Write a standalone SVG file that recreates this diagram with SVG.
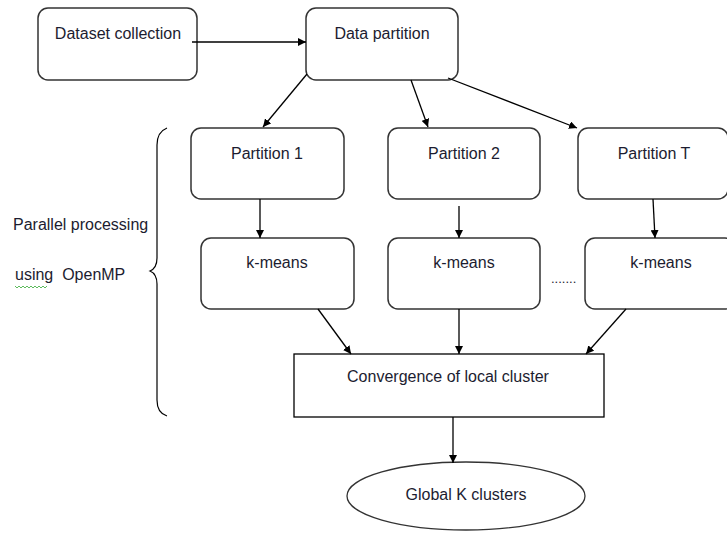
<svg xmlns="http://www.w3.org/2000/svg" width="727" height="540" viewBox="0 0 727 540">
<defs>
<marker id="ah" viewBox="0 0 10 10" refX="10" refY="5" markerWidth="8" markerHeight="8" markerUnits="userSpaceOnUse" orient="auto">
<path d="M0,0 L10,5 L0,10 z" fill="#000"/>
</marker>
<style>
.box{fill:#fff;stroke:#333;stroke-width:1.5}
.t{font-family:"Liberation Sans",Arial,sans-serif;font-size:16px;fill:#1c1c30;text-anchor:middle}
.tl{font-family:"Liberation Sans",Arial,sans-serif;font-size:16px;fill:#1c1c30}
.c{stroke:#000;stroke-width:1.3;fill:none;marker-end:url(#ah)}
</style>
</defs>
<rect width="727" height="540" fill="#fff"/>
<g id="dataset"><rect class="box" x="38" y="8" width="159" height="72" rx="10"/><text class="t" x="118" y="39">Dataset collection</text></g>
<g id="datapartition"><rect class="box" x="306" y="8" width="152" height="72" rx="10"/><text class="t" x="382" y="39">Data partition</text></g>
<g id="p1"><rect class="box" x="191" y="128" width="153" height="71" rx="10"/><text class="t" x="267" y="159">Partition 1</text></g>
<g id="p2"><rect class="box" x="388" y="128" width="152" height="71" rx="10"/><text class="t" x="464" y="159">Partition 2</text></g>
<g id="pT"><rect class="box" x="578" y="128" width="150" height="71" rx="10"/><text class="t" x="654" y="159">Partition T</text></g>
<g id="k1"><rect class="box" x="201" y="238" width="153" height="71" rx="10"/><text class="t" x="277" y="268">k-means</text></g>
<g id="k2"><rect class="box" x="388" y="238" width="152" height="71" rx="10"/><text class="t" x="464" y="268">k-means</text></g>
<g id="k3"><rect class="box" x="585" y="238" width="150" height="71" rx="10"/><text class="t" x="661" y="268">k-means</text></g>
<g id="dots"><text class="tl" x="551" y="283" style="font-size:13px">.......</text></g>
<g id="conv"><rect x="294" y="354" width="310" height="63" fill="#fff" stroke="#000" stroke-width="1.3"/><text class="t" x="448" y="382">Convergence of local cluster</text></g>
<g id="global"><ellipse cx="466" cy="496" rx="119" ry="34" fill="#fff" stroke="#333" stroke-width="1.3"/><text class="t" x="466" y="500">Global K clusters</text></g>
<g id="label"><text class="tl" x="13" y="230">Parallel processing</text><text class="tl" x="15" y="280" xml:space="preserve">using  OpenMP</text>
<path d="M15,286 l2,2 l2,-2 l2,2 l2,-2 l2,2 l2,-2 l2,2 l2,-2 l2,2 l2,-2 l2,2 l2,-2 l2,2 l2,-2 l2,2 l2,-2" fill="none" stroke="#3a3" stroke-width="0.8"/></g>
<g id="brace"><path d="M167,128 Q157,132 157,145 L157,258 Q157,268 150,271 Q157,274 157,284 L157,400 Q157,413 167,416" fill="none" stroke="#000" stroke-width="1.2"/></g>
<g id="connectors">
<line class="c" x1="192" y1="42" x2="306" y2="42"/>
<line class="c" x1="307" y1="74" x2="263" y2="127"/>
<line class="c" x1="411" y1="80" x2="428" y2="127"/>
<line class="c" x1="448" y1="78" x2="577" y2="128"/>
<line class="c" x1="260" y1="199" x2="260" y2="238"/>
<line class="c" x1="459" y1="206" x2="459" y2="238"/>
<line class="c" x1="653" y1="199" x2="655" y2="238"/>
<line class="c" x1="318" y1="309" x2="351" y2="354"/>
<line class="c" x1="459" y1="309" x2="459" y2="354"/>
<line class="c" x1="626" y1="309" x2="586" y2="354"/>
<line class="c" x1="453" y1="417" x2="453" y2="463"/>
</g>
</svg>
